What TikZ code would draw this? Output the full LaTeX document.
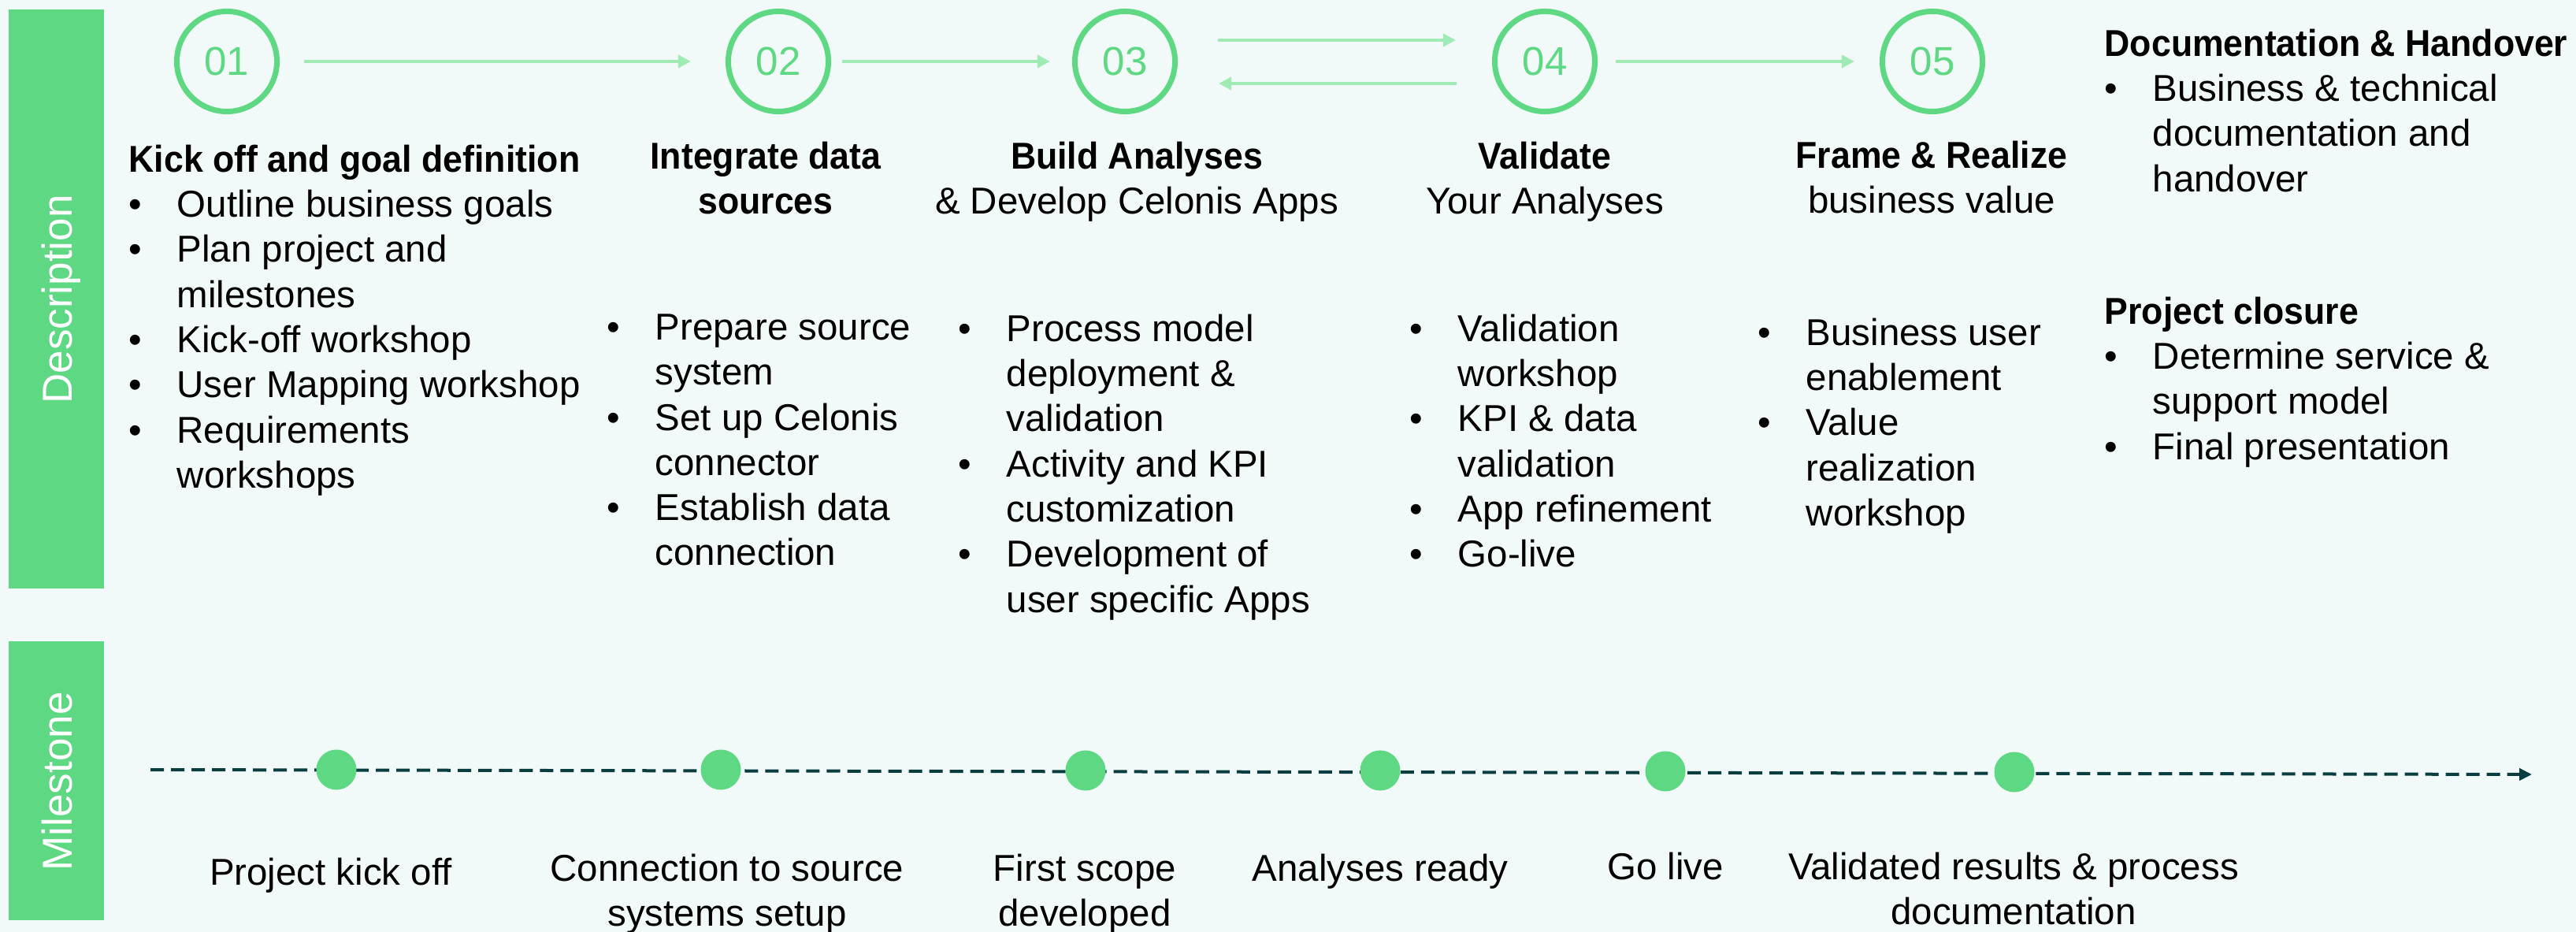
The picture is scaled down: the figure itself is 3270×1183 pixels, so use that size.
\documentclass[tikz,border=0pt]{standalone}
\usepackage{fontspec}
\setmainfont{Liberation Sans}[BoldFeatures={FakeStretch=0.94}]
\usetikzlibrary{arrows.meta}
\definecolor{bgmint}{RGB}{241,250,248}
\definecolor{barcol}{RGB}{94,216,131}
\definecolor{flowcol}{RGB}{160,234,181}
\definecolor{linecol}{RGB}{10,61,64}
\newcommand{\bul}{\makebox[0.61cm][l]{\textbullet}}
\newcommand{\ind}{\hspace*{0.61cm}}
\begin{document}
\begin{tikzpicture}[x=0.01cm,y=-0.01cm,
    every node/.style={inner sep=0pt,font=\fontsize{13.5pt}{16.3pt}\selectfont},
    barlabel/.style={rotate=90,anchor=base,text=white,font=\fontsize{15.1pt}{18pt}\selectfont},
    stage/.style={circle,draw=barcol,line width=0.07cm,minimum size=1.27cm,text=barcol,
      font=\fontsize{14.5pt}{17pt}\selectfont},
    flow/.style={draw=flowcol,line width=0.04cm,-{Triangle[length=0.16cm,width=0.16cm]}},
    head/.style={anchor=north,align=center},
    list/.style={anchor=north west,align=left},
    dot/.style={circle,fill=barcol,minimum size=0.51cm},
    mlabel/.style={anchor=north,align=center}]
  \fill[bgmint] (0,0) rectangle (3270,1183);
  \useasboundingbox (0,0) rectangle (3270,1183);
  % side bars
  \fill[barcol] (11,12) rectangle (132,747);
  \fill[barcol] (11,814) rectangle (132,1168);
  \node[barlabel] (desc) at (91,380) {Description};
  \node[barlabel] (mile) at (91,992) {Milestone};
  % phases
  \path
    (288,78) node[stage] (c1) {01}
    (988,78) node[stage] (c2) {02}
    (1428,78) node[stage] (c3) {03}
    (1961,78) node[stage] (c4) {04}
    (2453,78) node[stage] (c5) {05};
  \begin{scope}[flow]
    \draw[shorten <=0.31cm,shorten >=0.44cm] (c1.east) -- (c2.west);
    \draw[shorten <=0.14cm,shorten >=0.28cm] (c2.east) -- (c3.west);
    \draw[shorten <=0.51cm,shorten >=0.46cm] ([yshift=0.27cm]c3.east) -- ([yshift=0.27cm]c4.west);
    \draw[shorten <=0.45cm,shorten >=0.52cm] ([yshift=-0.28cm]c4.west) -- ([yshift=-0.28cm]c3.east);
    \draw[shorten <=0.23cm,shorten >=0.32cm] (c4.east) -- (c5.west);
  \end{scope}
  % descriptions
  \node[list] (p1) at (163,183) {\textbf{Kick off and goal definition}\\
    \bul Outline business goals\\
    \bul Plan project and\\
    \ind milestones\\
    \bul Kick-off workshop\\
    \bul User Mapping workshop\\
    \bul Requirements\\
    \ind workshops};
  \node[head] (h2) at (972,179) {\textbf{Integrate data}\\\textbf{sources}};
  \node[list] (p2) at (770,398) {\bul Prepare source\\
    \ind system\\
    \bul Set up Celonis\\
    \ind connector\\
    \bul Establish data\\
    \ind connection};
  \node[head] (h3) at (1443,179) {\textbf{Build Analyses}\\\& Develop Celonis Apps};
  \node[list] (p3) at (1216,398) {\bul Process model\\
    \ind deployment \&\\
    \ind validation\\
    \bul Activity and KPI\\
    \ind customization\\
    \bul Development of\\
    \ind user specific Apps};
  \node[head] (h4) at (1961,179) {\textbf{Validate}\\Your Analyses};
  \node[list] (p4) at (1789,398) {\bul Validation\\
    \ind workshop\\
    \bul KPI \& data\\
    \ind validation\\
    \bul App refinement\\
    \bul Go-live};
  \node[head] (h5) at (2452,178) {\textbf{Frame \& Realize}\\business value};
  \node[list] (p5) at (2231,403) {\bul Business user\\
    \ind enablement\\
    \bul Value\\
    \ind realization\\
    \ind workshop};
  \node[list] (p6) at (2671,36) {\textbf{Documentation \& Handover}\\
    \bul Business \& technical\\
    \ind documentation and\\
    \ind handover};
  \node[list] (p7) at (2671,376) {\textbf{Project closure}\\
    \bul Determine service \&\\
    \ind support model\\
    \bul Final presentation};
  % milestones
  \coordinate (ms) at (191,977);
  \coordinate (me) at (3214,983);
  \draw[linecol,line width=0.04cm,dash pattern=on 0.17cm off 0.09cm,
    -{Triangle[length=0.16cm,width=0.15cm]}] (ms) -- (me);
  \path
    (427,977) node[dot] (m1) {}
    (915,977) node[dot] (m2) {}
    (1378,978) node[dot] (m3) {}
    (1752,978) node[dot] (m4) {}
    (2114,979) node[dot] (m5) {}
    (2557,980) node[dot] (m6) {};
  \node[mlabel] (l1) at (420,1088) {Project kick off};
  \node[mlabel] (l2) at (923,1083) {Connection to source\\systems setup};
  \node[mlabel] (l3) at (1377,1083) {First scope\\developed};
  \node[mlabel] (l4) at (1752,1083) {Analyses ready};
  \node[mlabel] (l5) at (2114,1081) {Go live};
  \node[mlabel] (l6) at (2556,1081) {Validated results \& process\\documentation};
\end{tikzpicture}
\end{document}
